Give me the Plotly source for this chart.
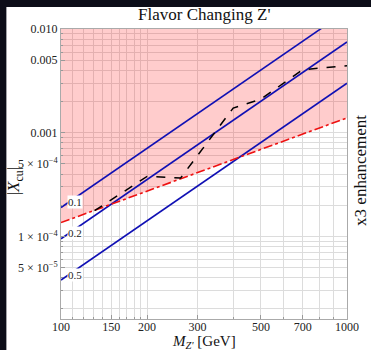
import numpy as np
import plotly.graph_objects as go

# ---------------- data ----------------
mass_ends = [100, 1000]                      # GeV, x-range endpoints of straight lines
line_01 = [1.9e-4, 1.5e-2]                    # blue line labelled 0.1
line_02 = [9.5e-5, 7.5e-3]                    # blue line labelled 0.2
line_05 = [3.8e-5, 3.0e-3]                    # blue line labelled 0.5
blue_labels = ["0.1", "0.2", "0.5"]
red_vals = [1.36e-4, 1.39e-3]                 # red dash-dot bound (x3 enhancement)
y_top = 0.01
black_mass = [131, 200, 262, 400, 500, 700, 1000]
black_vals = [1.77e-4, 3.79e-4, 3.66e-4, 1.73e-3, 2.11e-3, 4.05e-3, 4.43e-3]

x_tickvals = [100, 150, 200, 300, 500, 700, 1000]
x_ticktext = ["100", "150", "200", "300", "500", "700", "1000"]
y_tickvals = [5e-5, 1e-4, 5e-4, 1e-3, 5e-3, 1e-2]
y_ticktext = ["5 × 10<sup>−5</sup>", "1 × 10<sup>−4</sup>", "5 × 10<sup>−4</sup>",
              "0.001", "0.005", "0.010"]

# ---------------- layout geometry ----------------
W, H = 371, 350
L, R, T, B = 61, 22, 29, 31
pw, ph = W - L - R, H - T - B
def px(xp):  # pixel -> paper x
    return (xp - L) / pw
def py(yp):  # pixel -> paper y
    return (H - B - yp) / ph

SERIF = "Liberation Serif, Times New Roman, serif"
BLUE = "#1010b4"
GRID = "#dcdcdc"

fig = go.Figure()

# shaded excluded region above red bound
fig.add_trace(go.Scatter(
    x=mass_ends + mass_ends[::-1],
    y=red_vals + [y_top, y_top],
    fill="toself", fillcolor="rgba(255,0,0,0.2)",
    line=dict(width=0), mode="lines", hoverinfo="skip", showlegend=False))

for vals in (line_01, line_02, line_05):
    fig.add_trace(go.Scatter(x=mass_ends, y=vals, mode="lines",
                             line=dict(color=BLUE, width=1.6), showlegend=False))

fig.add_trace(go.Scatter(x=mass_ends, y=red_vals, mode="lines",
                         line=dict(color="#ee1111", width=1.6, dash="dashdot"),
                         showlegend=False))

fig.add_trace(go.Scatter(x=black_mass, y=black_vals, mode="lines",
                         line=dict(color="black", width=1.5, dash="dash"),
                         showlegend=False))

# labels on the blue lines
xl = 111.8
for lab, vals in zip(blue_labels, (line_01, line_02, line_05)):
    slope = np.log10(vals[1] / vals[0]) / np.log10(mass_ends[1] / mass_ends[0])
    yv = vals[0] * (xl / mass_ends[0]) ** slope
    fig.add_annotation(x=np.log10(xl), y=np.log10(yv), text=lab, showarrow=False,
                       xref="x", yref="y", yshift=-4, bgcolor="white", borderpad=0,
                       xanchor="center", yanchor="middle",
                       font=dict(family=SERIF, size=11, color="#222"))

# white figure sheet over dark background
fig.add_shape(type="rect", xref="paper", yref="paper",
              x0=px(6), x1=px(W + 5), y0=py(H + 5), y1=py(7),
              fillcolor="white", line=dict(width=0), layer="below")

# text
fig.add_annotation(x=0.5, y=py(15), xref="paper", yref="paper", showarrow=False,
                   xanchor="center", yanchor="middle",
                   text="Flavor Changing Z'", font=dict(family=SERIF, size=17, color="#111"))
fig.add_annotation(x=0.5, y=py(342), xref="paper", yref="paper", showarrow=False,
                   xanchor="center", yanchor="middle",
                   text="<i>M</i><sub><i>Z'</i></sub> [GeV]",
                   font=dict(family=SERIF, size=15, color="#111"))
fig.add_annotation(x=px(15), y=py(181), xref="paper", yref="paper", showarrow=False,
                   xanchor="center", yanchor="middle",
                   textangle=-90, text="|<i>X</i><sub>cu</sub>|",
                   font=dict(family=SERIF, size=17, color="#111"))
fig.add_annotation(x=px(362), y=py(170), xref="paper", yref="paper", showarrow=False,
                   xanchor="center", yanchor="middle",
                   textangle=-90, text="x3 enhancement",
                   font=dict(family=SERIF, size=17, color="#111"))

minor_x = list(range(100, 200, 10)) + list(range(200, 1001, 100))
minor_y = [m * 10.0 ** e for e in (-5, -4, -3) for m in range(1, 10)]

fig.update_xaxes(type="log", range=[2, 3], tickvals=x_tickvals, ticktext=x_ticktext,
                 showgrid=True, gridcolor=GRID, gridwidth=1,
                 minor=dict(tickvals=minor_x, showgrid=True, gridcolor=GRID,
                            ticks="inside", ticklen=2, tickcolor="#999"),
                 ticks="inside", ticklen=4, tickcolor="#999", ticklabelstandoff=-3,
                 showline=True, linecolor="#aaa", mirror=True, zeroline=False,
                 tickfont=dict(family=SERIF, size=12, color="#222"))
fig.update_yaxes(type="log", range=[np.log10(1.6e-5), -2], tickvals=y_tickvals,
                 ticktext=y_ticktext,
                 showgrid=True, gridcolor=GRID, gridwidth=1,
                 minor=dict(tickvals=minor_y, showgrid=True, gridcolor=GRID,
                            ticks="inside", ticklen=2, tickcolor="#999"),
                 ticks="inside", ticklen=4, tickcolor="#999",
                 showline=True, linecolor="#aaa", mirror=True, zeroline=False,
                 tickfont=dict(family=SERIF, size=12, color="#222"))

fig.update_layout(width=W, height=H, margin=dict(l=L, r=R, t=T, b=B),
                  paper_bgcolor="#0c0d18", plot_bgcolor="white", showlegend=False)

fig.write_html("out.html", config={"displayModeBar": False},
               post_script="document.body.style.margin='0';"
                           "document.body.style.overflow='hidden';")
